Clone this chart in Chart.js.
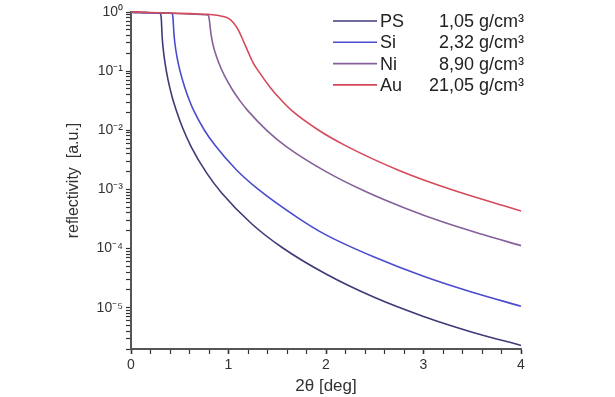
<!DOCTYPE html>
<html>
<head>
<meta charset="utf-8">
<script src="https://cdn.jsdelivr.net/npm/chart.js@4/dist/chart.umd.min.js"></script>
<style>
  html, body { margin: 0; padding: 0; background: #fff; }
</style>
</head>
<body>
<canvas id="refChart" width="615" height="397"></canvas>
<script>
// Series (2theta in deg, reflectivity in a.u.)
const names = ['PS', 'Si', 'Ni', 'Au'];
const densities = ['1,05', '2,32', '8,90', '21,05'];
const colors = ['#3d3b78', '#4b4bd0', '#85609a', '#d44a5a'];

const xPS = [0, 0.1, 0.2, 0.28, 0.3, 0.31, 0.32, 0.33, 0.35, 0.38, 0.42, 0.47, 0.53, 0.62, 0.775, 0.93, 1.24, 1.55, 2.0, 2.5, 3.0, 3.5, 4.0];
const yPS = [0.99, 0.98, 0.97, 0.96, 0.94, 0.8, 0.37, 0.24, 0.134, 0.071, 0.0377, 0.0204, 0.0109, 0.00515, 0.0019, 0.00087, 0.00026, 0.000104, 0.000037, 0.0000148, 0.0000071, 0.00000385, 0.0000023];

const xSi = [0, 0.1, 0.2, 0.3, 0.4, 0.42, 0.43, 0.44, 0.45, 0.47, 0.5, 0.55, 0.6, 0.65, 0.75, 0.86, 1.075, 1.29, 1.72, 2.0, 2.5, 3.0, 3.5, 4.0];
const ySi = [0.99, 0.98, 0.97, 0.96, 0.95, 0.94, 0.82, 0.44, 0.296, 0.18, 0.105, 0.0537, 0.0316, 0.0204, 0.0102, 0.00562, 0.00219, 0.00105, 0.000324, 0.00017, 0.000071, 0.0000339, 0.0000182, 0.0000106];

const xNi = [0, 0.2, 0.4, 0.6, 0.75, 0.79, 0.8, 0.82, 0.84, 0.88, 0.92, 0.96, 1.04, 1.12, 1.2, 1.4, 1.6, 2.0, 2.4, 2.8, 3.2, 3.6, 4.0];
const yNi = [0.99, 0.97, 0.95, 0.93, 0.9, 0.89, 0.8, 0.43, 0.284, 0.17, 0.115, 0.083, 0.0485, 0.0311, 0.0213, 0.0097, 0.0052, 0.002, 0.00093, 0.00049, 0.00028, 0.000174, 0.000112];

const xAu = [0, 0.2, 0.4, 0.6, 0.8, 0.9, 1.0, 1.05, 1.1, 1.15, 1.2, 1.25, 1.32, 1.43, 1.54, 1.65, 1.925, 2.2, 2.75, 3.3, 3.85, 4.0];
const yAu = [1.0, 0.98, 0.96, 0.94, 0.91, 0.87, 0.78, 0.66, 0.5, 0.33, 0.214, 0.141, 0.0933, 0.0525, 0.0324, 0.0214, 0.01, 0.0055, 0.00209, 0.000973, 0.000512, 0.000433];

// Axis ticks
const yMajor = [1e-5, 1e-4, 1e-3, 1e-2, 1e-1, 1];
const yMajorLabels = ['10\u207B\u2075', '10\u207B\u2074', '10\u207B\u00B3', '10\u207B\u00B2', '10\u207B\u00B9', '10\u2070'];
const xMajorLabels = ['0', '1', '2', '3', '4'];

const seriesX = [xPS, xSi, xNi, xAu];
const seriesY = [yPS, ySi, yNi, yAu];

function toPoints(xs, ys) {
    return xs.map((x, i) => ({ x: x, y: ys[i] }));
}

const fontFamily = '"Liberation Sans", Arial, sans-serif';

// legend drawn at the top right like the original figure
const sideLegend = {
    id: 'sideLegend',
    afterDraw(chart) {
        const c = chart.ctx;
        c.save();
        c.font = '18px ' + fontFamily;
        c.fillStyle = '#222';
        c.textBaseline = 'middle';
        names.forEach((n, i) => {
            const y = 21 + i * 21.3;
            c.strokeStyle = colors[i];
            c.lineWidth = 1.6;
            c.beginPath();
            c.moveTo(333, y);
            c.lineTo(377, y);
            c.stroke();
            c.textAlign = 'left';
            c.fillText(n, 380, y + 1);
            c.textAlign = 'right';
            c.fillText(densities[i] + ' g/cm\u00B3', 524, y + 1);
        });
        c.restore();
    }
};

const ctx = document.getElementById('refChart').getContext('2d');

new Chart(ctx, {
    type: 'line',
    data: {
        datasets: names.map((n, i) => ({
            label: n,
            data: toPoints(seriesX[i], seriesY[i]),
            borderColor: colors[i],
            backgroundColor: colors[i],
            borderWidth: 1.6,
            pointRadius: 0,
            cubicInterpolationMode: 'monotone',
            clip: false,
            order: 3 - i // Au drawn on top
        }))
    },
    options: {
        responsive: false,
        animation: false,
        layout: { padding: { left: 64, top: 12, right: 94, bottom: 0 } },
        plugins: {
            legend: { display: false },
            tooltip: { enabled: false }
        },
        scales: {
            x: {
                type: 'linear',
                min: 0,
                max: 4,
                afterFit: s => { s.height = 48; },
                afterBuildTicks: s => {
                    const t = [];
                    for (let k = 0; k <= 20; k++) t.push({ value: +(k * 0.2).toFixed(1) });
                    s.ticks = t;
                },
                ticks: {
                    autoSkip: false,
                    maxRotation: 0,
                    color: '#333',
                    padding: 3,
                    font: { family: fontFamily, size: 14 },
                    callback: v => (Math.abs(v - Math.round(v)) < 1e-6 ? xMajorLabels[Math.round(v)] : '')
                },
                grid: {
                    drawOnChartArea: false,
                    tickLength: 5,
                    tickColor: '#333',
                    tickWidth: ctx2 => (ctx2.tick && Number.isInteger(ctx2.tick.value) ? 1.6 : 1.2)
                },
                border: { color: '#555', width: 2 },
                title: {
                    display: true,
                    text: '2\u03B8 [deg]',
                    color: '#333',
                    padding: { top: 1, bottom: 0 },
                    font: { family: fontFamily, size: 17 }
                }
            },
            y: {
                type: 'logarithmic',
                min: 2e-6,
                max: 1,
                afterFit: s => { s.width = 67; },
                afterBuildTicks: s => {
                    const t = [];
                    for (let e = -6; e <= 0; e++) {
                        for (let m = 1; m <= 9; m++) {
                            const v = m * Math.pow(10, e);
                            if (v >= 2e-6 && v <= 1.0000001) t.push({ value: v });
                        }
                    }
                    s.ticks = t;
                },
                ticks: {
                    autoSkip: false,
                    color: '#333',
                    padding: 3,
                    font: { family: fontFamily, size: 14 },
                    callback: v => {
                        const idx = yMajor.findIndex(m => Math.abs(v - m) / m < 1e-6);
                        return idx >= 0 ? yMajorLabels[idx] : '';
                    }
                },
                grid: {
                    drawOnChartArea: false,
                    tickLength: 5,
                    tickColor: '#333',
                    tickWidth: 1.2
                },
                border: { color: '#555', width: 2 },
                title: {
                    display: true,
                    text: 'reflectivity  [a.u.]',
                    color: '#333',
                    padding: { top: 0, bottom: 2 },
                    font: { family: fontFamily, size: 16 }
                }
            }
        }
    },
    plugins: [sideLegend]
});
</script>
</body>
</html>
